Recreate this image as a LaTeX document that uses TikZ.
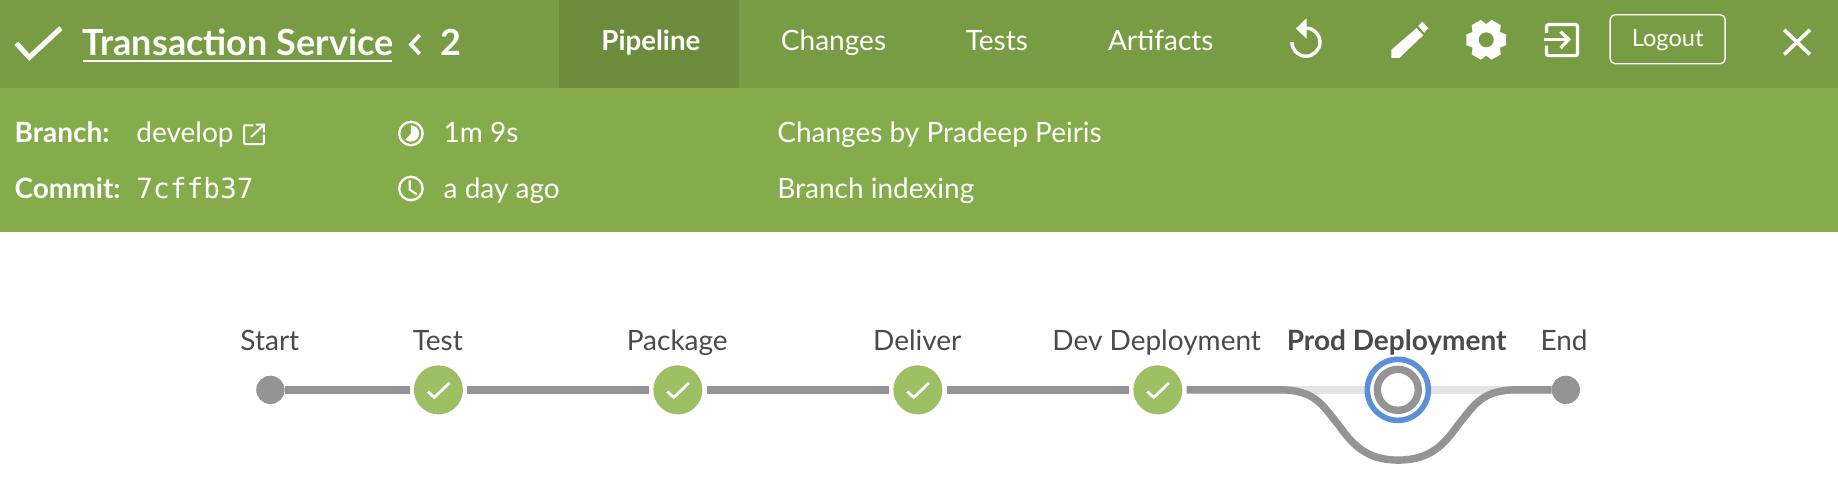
\documentclass[tikz,border=0pt]{standalone}
\usepackage{fontspec}
\setmainfont{Lato}
\setmonofont{DejaVu Sans Mono}
\definecolor{topbar}{HTML}{789C43}
\definecolor{subbar}{HTML}{85AC4B}
\definecolor{activetab}{HTML}{6C8C3C}
\definecolor{okgreen}{HTML}{9BBF62}
\definecolor{linegray}{HTML}{949494}
\definecolor{lightline}{HTML}{E4E4E4}
\definecolor{labelgray}{HTML}{4A4A4A}
\definecolor{ringblue}{HTML}{5B8FD8}
\tikzset{
 x=1.1707pt,y=-1.1707pt,
 hdr/.style={text=white,anchor=base west,inner sep=0,outer sep=0,font=\fontsize{28}{32}\selectfont},
 hdrc/.style={hdr,anchor=base},
 stagelabel/.style={text=labelgray,anchor=base,inner sep=0,font=\fontsize{28}{32}\selectfont},
 okdot/.style={circle,fill=okgreen,minimum size=49pt,inner sep=0},
 enddot/.style={circle,fill=linegray,minimum size=28pt,inner sep=0},
 pipe/.style={draw=linegray,line width=7.4pt},
 tick/.style={draw=white,line width=2.8pt},
}
\begin{document}
\begin{tikzpicture}
\useasboundingbox (0,0) rectangle (1570,423.67);
\fill[white] (0,0) rectangle (1570,423.67);
\fill[topbar] (0,0) rectangle (1570,75);
\fill[subbar] (0,75) rectangle (1570,198);
\fill[activetab] (477.5,0) rectangle (631.5,75);
% title
\draw[white,line width=5pt] (14,37) -- (25,49) -- (52,24);
\node[hdr,font=\fontsize{36}{40}\selectfont\bfseries] (title) at (70.5,47.5) {Transaction Service};
\draw[white,line width=2.4pt] (70.5,52) -- (334.5,52);
\draw[white,line width=3.8pt] (358.5,30) -- (351,38) -- (358.5,46);
\node[hdr,font=\fontsize{36}{40}\selectfont\bfseries] (runnum) at (376.5,47.5) {2};
% tabs
\node[hdrc,font=\fontsize{27.7}{32}\selectfont\bfseries] (pipeline) at (556,43.5) {Pipeline};
\node[hdrc] (changes) at (712,43.5) {Changes};
\node[hdrc] (tests) at (851.5,43.5) {Tests};
\node[hdrc] (artifacts) at (991.5,43.5) {Artifacts};
% replay
\draw[white,line width=3.4pt] (1115.5,24) arc[start angle=-90,end angle=180,radius=12];
\fill[white] (1116,15.6) -- (1116,33) -- (1107,24.3) -- cycle;
% pencil
\fill[white] (1188.5,49.5) -- (1188.5,42.5) -- (1210,24) -- (1215.7,30) -- (1195.3,49.5) -- cycle;
\fill[white] (1211.5,22.2) -- (1215,18.5) -- (1220,24.2) -- (1216.5,27.9) -- cycle;
% gear
\fill[white] (1269.5,34) circle[radius=12.5];
\foreach \a in {30,90,150,210,270,330}{\fill[white,rotate around={\a:(1269.5,34)}] (1262.5,23) -- (1265,17) -- (1274,17) -- (1276.5,23) -- cycle;}
\fill[topbar] (1269.5,34) circle[radius=6.4];
% exit
\draw[white,line width=3.2pt,rounded corners=2pt] (1321,28) -- (1321,21) -- (1347.5,21) -- (1347.5,47.5) -- (1321,47.5) -- (1321,39);
\draw[white,line width=3.2pt] (1319,33.6) -- (1340,33.6);
\draw[white,line width=3.2pt] (1333,27) -- (1340,33.6) -- (1333,41);
% logout
\node[draw=white,line width=1.4pt,rounded corners=5pt,text=white,minimum width=115pt,minimum height=49pt,inner sep=0,font=\fontsize{23.6}{26}\selectfont] (logout) at (1424.5,33.5) {\raisebox{-7.6pt}[0pt][0pt]{Logout}};
% close
\draw[white,line width=3.6pt] (1524,25.5) -- (1546,46.5) (1546,25.5) -- (1524,46.5);
% sub bar
\node[hdr,font=\fontsize{28}{32}\selectfont\bfseries] (branchk) at (12.5,122) {Branch:};
\node[hdr] (branchv) at (116.5,122) {develop};
\draw[white,line width=2pt,rounded corners=1pt] (216.5,107) -- (208.5,107) -- (208.5,123) -- (225.5,123) -- (225.5,115);
\draw[white,line width=2pt] (214.5,117) -- (225.5,106.5) (218.5,106.5) -- (225.5,106.5) -- (225.5,113);
\node[hdr,font=\fontsize{28}{32}\selectfont\bfseries] (commitk) at (12.5,169.5) {Commit:};
\node[hdr,font=\fontsize{27.8}{32}\selectfont\ttfamily] (commitv) at (116.5,169.5) {7cffb37};
\draw[white,line width=2.3pt] (351,114) circle[radius=10];
\fill[white] (351,114) -- (351,107) arc[start angle=-90,end angle=130,radius=7] -- cycle;
\node[hdr] (dur) at (379,122) {1m 9s};
\draw[white,line width=2.3pt] (351,161) circle[radius=10];
\draw[white,line width=2.1pt] (350,154) -- (350,162) -- (356,166);
\node[hdr] (ago) at (379,169.5) {a day ago};
\node[hdr] (chg) at (664,122) {Changes by Pradeep Peiris};
\node[hdr] (idx) at (664,169.5) {Branch indexing};
% pipeline
\coordinate (fork) at (1093.5,333);
\coordinate (join) at (1295.5,333);
\coordinate (prod) at (1194,333);
\node[enddot] (start) at (231,333) {};
\node[okdot] (test) at (374.5,333) {};
\node[okdot] (package) at (579,333) {};
\node[okdot] (deliver) at (784,333) {};
\node[okdot] (dev) at (989,333) {};
\node[enddot] (endn) at (1337.5,333) {};
\draw[draw=lightline,line width=7.4pt] (fork) -- (join);
\draw[pipe] (start) -- ([xshift=-4pt]test.west);
\draw[pipe] ([xshift=4pt]test.east) -- ([xshift=-4pt]package.west);
\draw[pipe] ([xshift=4pt]package.east) -- ([xshift=-4pt]deliver.west);
\draw[pipe] ([xshift=4pt]deliver.east) -- ([xshift=-4pt]dev.west);
\draw[pipe] ([xshift=4pt]dev.east) -- (fork) .. controls (1124,333) and (1130,347) .. (1143.4,363) .. controls (1155.4,380) and (1167.4,393) .. (1194.4,393) .. controls (1221.4,393) and (1233.4,380) .. (1245.4,363) .. controls (1258.8,347) and (1265,333) .. (join) -- (endn);
\node[enddot] at (start) {};
\node[enddot] at (endn) {};
\node[circle,draw=ringblue,line width=5.6pt,fill=white,minimum size=61pt,inner sep=0] (prodring) at (prod) {};
\node[circle,draw=linegray,line width=7.4pt,minimum size=41pt,inner sep=0,fill=white] (prodn) at (prod) {};
\foreach \n in {test,package,deliver,dev}{\draw[tick] ([shift={(-9,1.5)}]\n.center) -- ([shift={(-3.5,6.5)}]\n.center) -- ([shift={(9.5,-6)}]\n.center);}
\node[stagelabel] (l1) at (230.5,299.5) {Start};
\node[stagelabel] (l2) at (374,299.5) {Test};
\node[stagelabel] (l3) at (578.5,299.5) {Package};
\node[stagelabel] (l4) at (783.5,299.5) {Deliver};
\node[stagelabel] (l5) at (988,299.5) {Dev Deployment};
\node[stagelabel,font=\fontsize{28}{32}\selectfont\bfseries] (l6) at (1193,299.5) {Prod Deployment};
\node[stagelabel] (l7) at (1336,299.5) {End};
\end{tikzpicture}
\end{document}
